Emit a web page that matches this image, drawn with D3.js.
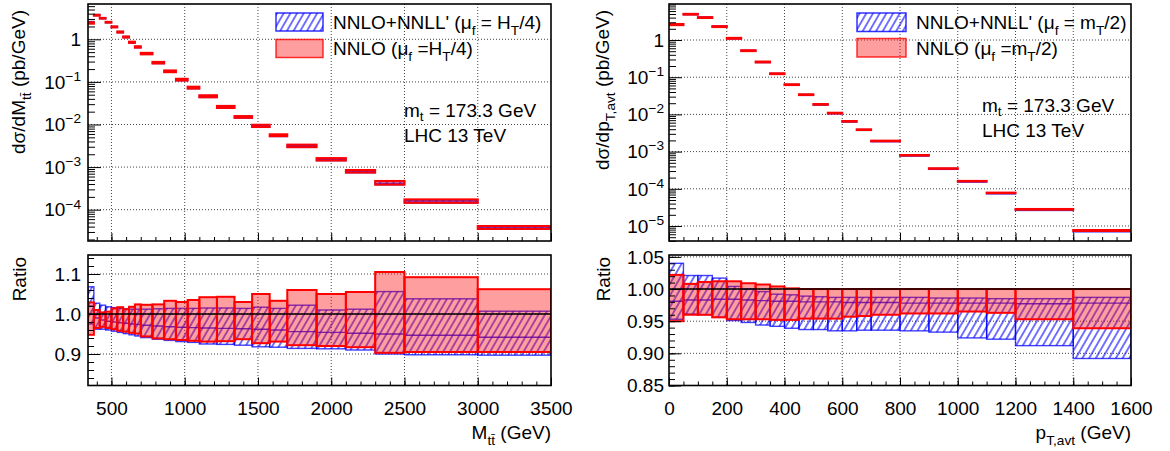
<!DOCTYPE html>
<html><head><meta charset="utf-8">
<script src="https://cdn.jsdelivr.net/npm/d3@7"></script>
<style>body{margin:0;background:#fff}svg{display:block}text{font-family:"Liberation Sans",Arial,Helvetica,sans-serif}</style>
</head><body><svg id="c" width="1170" height="451"></svg>
<script>
// ---------------- data: M_ttbar ----------------
const mttEdges = [340,380,420,460,500,540,580,620,660,700,780,860,940,1020,1100,1220,1340,1460,1580,1700,1900,2100,2300,2500,3000,3500];
const mttXsec  = [2.45,3.72,3.16,2.55,1.98,1.5,1.15,0.865,0.67,0.47,0.288,0.18,0.115,0.0746,0.0467,0.0262,0.0153,0.0094,0.0057,0.00318,0.00155,0.00081,0.000428,0.00016,0.000039];
const mttNnloHi = [1.029,1.010,1.004,1.006,1.014,1.017,1.012,1.018,1.024,1.023,1.024,1.033,1.030,1.035,1.042,1.043,1.030,1.050,1.033,1.060,1.050,1.055,1.105,1.092,1.062];
const mttNnloLo = [0.948,0.965,0.968,0.965,0.962,0.958,0.956,0.953,0.951,0.944,0.939,0.937,0.935,0.933,0.931,0.932,0.937,0.927,0.931,0.922,0.920,0.917,0.903,0.905,0.905];
const mttResHi  = [1.068,1.027,1.022,1.018,1.016,1.014,1.013,1.012,1.012,1.012,1.013,1.014,1.014,1.014,1.015,1.015,1.014,1.017,1.014,1.022,1.010,1.012,1.056,1.038,1.007];
const mttResMid = [1.020,0.990,0.985,0.982,0.980,0.978,0.977,0.975,0.974,0.972,0.970,0.968,0.967,0.966,0.965,0.964,0.963,0.962,0.960,0.956,0.954,0.952,0.950,0.947,0.942];
const mttResLo  = [0.975,0.962,0.962,0.960,0.957,0.954,0.951,0.948,0.945,0.941,0.937,0.934,0.931,0.929,0.925,0.924,0.922,0.918,0.917,0.914,0.913,0.910,0.900,0.898,0.897];
// ---------------- data: pT,avt ----------------
const ptEdges = [0,50,100,150,200,250,300,350,400,450,500,550,600,650,700,800,900,1000,1100,1200,1400,1600];
const ptXsec  = [2.64,5.0,4.07,2.33,1.13,0.527,0.262,0.127,0.0645,0.0347,0.019,0.0111,0.00665,0.00397,0.00197,0.00081,0.000357,0.000163,0.000079,0.0000287,0.0000078];
const ptNnloHi = [1.022,1.008,1.011,1.012,1.012,1.009,1.007,1.004,1.001,1.0,1.0,1.0,1.0,1.0,1.0,1.0,1.0,1.0,1.0,1.0,1.0];
const ptNnloLo = [0.950,0.960,0.960,0.956,0.953,0.953,0.953,0.952,0.952,0.954,0.954,0.954,0.957,0.958,0.960,0.962,0.962,0.965,0.963,0.953,0.939];
const ptResHi  = [1.040,1.021,1.021,1.017,1.004,1.000,0.996,0.992,0.991,0.989,0.988,0.987,0.987,0.987,0.987,0.987,0.986,0.986,0.985,0.985,0.987];
const ptResMid = [0.981,0.983,0.983,0.984,0.984,0.983,0.982,0.981,0.981,0.980,0.980,0.980,0.979,0.979,0.979,0.978,0.978,0.978,0.978,0.977,0.978];
const ptResLo  = [0.953,0.961,0.960,0.956,0.951,0.948,0.944,0.942,0.939,0.937,0.937,0.935,0.935,0.936,0.936,0.935,0.933,0.924,0.922,0.912,0.892];
// ---------------- tick values / labels ----------------
const mttTicks = [500,1000,1500,2000,2500,3000,3500];
const ptTicks = [0,200,400,600,800,1000,1200,1400,1600];
const mttLogTicks = [1e-4,1e-3,1e-2,1e-1,1];
const ptLogTicks = [1e-5,1e-4,1e-3,1e-2,1e-1,1];
const mttRatioTicks = [0.9,1.0,1.1];
const ptRatioTicks = [0.85,0.90,0.95,1.00,1.05];
const legendMtt = [
  [{t:"NNLO+NNLL' (μ"},{t:"f",sub:1},{t:" = H"},{t:"T",sub:1},{t:"/4)"}],
  [{t:"NNLO (μ"},{t:"f",sub:1},{t:" =H"},{t:"T",sub:1},{t:"/4)"}]];
const legendPt = [
  [{t:"NNLO+NNLL' (μ"},{t:"f",sub:1},{t:" = m"},{t:"T",sub:1},{t:"/2)"}],
  [{t:"NNLO (μ"},{t:"f",sub:1},{t:" =m"},{t:"T",sub:1},{t:"/2)"}]];
const infoText = [[{t:"m"},{t:"t",sub:1},{t:" = 173.3 GeV"}],[{t:"LHC 13 TeV"}]];
const yTitleMtt = [{t:"dσ/dM"},{t:"tt\u0304",sub:1},{t:" (pb/GeV)"}];
const yTitlePt = [{t:"dσ/dp"},{t:"T,avt",sub:1},{t:" (pb/GeV)"}];
const xTitleMtt = [{t:"M"},{t:"tt\u0304",sub:1},{t:" (GeV)"}];
const xTitlePt = [{t:"p"},{t:"T,avt",sub:1},{t:" (GeV)"}];

// ---------------- drawing ----------------
const FS = 19;
const svg = d3.select("#c");
svg.append("rect").attr("width",1170).attr("height",451).attr("fill","#fff");
const defs = svg.append("defs");
const pat = defs.append("pattern").attr("id","hatch").attr("patternUnits","userSpaceOnUse")
  .attr("width",5.8).attr("height",10).attr("patternTransform","rotate(30)");
pat.append("line").attr("x1",2.9).attr("x2",2.9).attr("y1",-1).attr("y2",11)
  .attr("stroke","#0000ff").attr("stroke-width",1.1);

function rich(sel, parts, size, subShift) {
  let cur = 0;
  const sh = subShift === undefined ? 0.3*size : subShift;
  parts.forEach(p => {
    const target = p.sub ? sh : (p.sup ? -0.42*size : 0);
    const ts = sel.append("tspan").text(p.t);
    if (target !== cur) ts.attr("dy", target - cur);
    if (p.sub || p.sup) ts.attr("font-size", size*0.72);
    cur = target;
  });
}

function decadeLabel(v) {
  const e = Math.round(Math.log10(v));
  if (e === 0) return [{t:"1"}];
  return [{t:"10"},{t:(e<0?"\u2212":"")+Math.abs(e),sup:1}];
}

let clipN = 0;
function drawPanel(o) {
  const x = d3.scaleLinear().domain(o.xDom).range([o.x0, o.x1]);
  const yT = d3.scaleLog().domain(o.topDom).range([o.tY1, o.tY0]);
  const yR = d3.scaleLinear().domain(o.ratDom).range([o.rY1, o.rY0]);
  const n = o.xsec.length, idx = d3.range(n);

  const dotted = s => s.attr("stroke","#444").attr("stroke-width",1).attr("stroke-dasharray","1,2");
  // grids
  const gridX = o.xTicks.filter(v => v > o.xDom[0] && v < o.xDom[1]);
  [[o.tY0,o.tY1],[o.rY0,o.rY1]].forEach(([a,b]) => {
    svg.append("g").selectAll("line").data(gridX).join("line")
      .attr("x1",d=>x(d)).attr("x2",d=>x(d)).attr("y1",a).attr("y2",b).call(dotted);
  });
  svg.append("g").selectAll("line").data(o.logTicks.filter(v=>yT(v)>o.tY0+1 && yT(v)<o.tY1-1)).join("line")
    .attr("x1",o.x0).attr("x2",o.x1).attr("y1",d=>yT(d)).attr("y2",d=>yT(d)).call(dotted);
  svg.append("g").selectAll("line").data(o.ratTicks.filter(v=>yR(v)>o.rY0+1 && yR(v)<o.rY1-1)).join("line")
    .attr("x1",o.x0).attr("x2",o.x1).attr("y1",d=>yR(d)).attr("y2",d=>yR(d)).call(dotted);

  function bands(yf, y0, y1) {
    const id = "clip" + (clipN++);
    defs.append("clipPath").attr("id",id).append("rect").attr("x",o.x0).attr("y",y0).attr("width",o.x1-o.x0).attr("height",y1-y0);
    const g = svg.append("g").attr("clip-path",`url(#${id})`);
    const xl = i => x(o.edges[i]), w = i => x(o.edges[i+1]) - x(o.edges[i]);
    g.selectAll(null).data(idx).join("rect")
      .attr("x",xl).attr("width",w)
      .attr("y",i=>yf(i,o.resHi[i])).attr("height",i=>yf(i,o.resLo[i])-yf(i,o.resHi[i]))
      .attr("fill","url(#hatch)").attr("stroke","#0000ff").attr("stroke-width",1.4).attr("stroke-opacity",0.75);
    g.selectAll(null).data(idx).join("line")
      .attr("x1",xl).attr("x2",i=>xl(i)+w(i)).attr("y1",i=>yf(i,o.resMid[i])).attr("y2",i=>yf(i,o.resMid[i]))
      .attr("stroke","#0000ff").attr("stroke-width",1.4).attr("stroke-opacity",0.8);
    g.selectAll(null).data(idx).join("rect")
      .attr("x",xl).attr("width",w)
      .attr("y",i=>yf(i,o.nnloHi[i])).attr("height",i=>yf(i,o.nnloLo[i])-yf(i,o.nnloHi[i]))
      .attr("fill","rgba(255,0,0,0.38)").attr("stroke","#ff0000").attr("stroke-width",2);
  }
  bands((i,r)=>yT(o.xsec[i]*r), o.tY0, o.tY1);
  bands((i,r)=>yR(r), o.rY0, o.rY1);
  // ratio reference line
  svg.append("line").attr("x1",o.x0).attr("x2",o.x1).attr("y1",yR(1)).attr("y2",yR(1))
    .attr("stroke","#000").attr("stroke-width",1.5);

  // ticks
  const xMinor = d3.range(Math.ceil(o.xDom[0]/o.xMinorStep)*o.xMinorStep, o.xDom[1]+1, o.xMinorStep);
  function xAxis(yPos, labels) {
    const gm = svg.append("g").attr("transform",`translate(0,${yPos})`)
      .call(d3.axisBottom(x).tickValues(xMinor).tickSize(-4).tickFormat(""));
    gm.select(".domain").remove();
    const g = svg.append("g").attr("transform",`translate(0,${yPos})`)
      .call(d3.axisBottom(x).tickValues(o.xTicks).tickSize(-8).tickPadding(16).tickFormat(labels ? d3.format("d") : ""));
    g.select(".domain").remove();
    g.selectAll("text").attr("font-size",FS).attr("font-family",'"Liberation Sans",Arial,sans-serif').attr("fill","#000");
  }
  xAxis(o.tY1, false);
  xAxis(o.rY1, true);

  const logMinor = [];
  for (let e = -7; e <= 1; e++) for (let m = 2; m <= 9; m++) {
    const v = m*Math.pow(10,e);
    if (v > o.topDom[0] && v < o.topDom[1]) logMinor.push(v);
  }
  const g1 = svg.append("g").attr("transform",`translate(${o.x0},0)`)
    .call(d3.axisLeft(yT).tickValues(logMinor).tickSize(-7).tickFormat(""));
  g1.select(".domain").remove();
  const g2 = svg.append("g").attr("transform",`translate(${o.x0},0)`)
    .call(d3.axisLeft(yT).tickValues(o.logTicks).tickSize(-13).tickFormat(""));
  g2.select(".domain").remove();
  const rMinor = d3.range(Math.ceil(o.ratDom[0]/o.ratMinorStep-1e-6), Math.floor(o.ratDom[1]/o.ratMinorStep+1e-6)+1).map(k=>k*o.ratMinorStep);
  const g3 = svg.append("g").attr("transform",`translate(${o.x0},0)`)
    .call(d3.axisLeft(yR).tickValues(rMinor).tickSize(-6).tickFormat(""));
  g3.select(".domain").remove();
  const g4 = svg.append("g").attr("transform",`translate(${o.x0},0)`)
    .call(d3.axisLeft(yR).tickValues(o.ratTicks).tickSize(-12).tickFormat(""));
  g4.select(".domain").remove();

  // y labels
  o.logTicks.forEach(v => {
    const t = svg.append("text").attr("x",o.labX).attr("y",yT(v)+6.8).attr("text-anchor","end").attr("font-size",FS);
    rich(t, decadeLabel(v), FS);
  });
  o.ratTicks.forEach(v => {
    svg.append("text").attr("x",o.labX).attr("y",yR(v)+6.8).attr("text-anchor","end").attr("font-size",FS)
      .text(d3.format(o.ratFmt)(v));
  });

  // frames
  svg.append("rect").attr("x",o.x0).attr("y",o.tY0).attr("width",o.x1-o.x0).attr("height",o.tY1-o.tY0)
    .attr("fill","none").attr("stroke","#000").attr("stroke-width",1.6);
  svg.append("rect").attr("x",o.x0).attr("y",o.rY0).attr("width",o.x1-o.x0).attr("height",o.rY1-o.rY0)
    .attr("fill","none").attr("stroke","#000").attr("stroke-width",1.6);

  // titles
  const yt = svg.append("text").attr("transform",`translate(${o.yTitleX},10) rotate(-90)`)
    .attr("text-anchor","end").attr("font-size",FS);
  rich(yt, o.yTitle, FS);
  svg.append("text").attr("transform",`translate(${o.yTitleX+1},${o.rY0+2}) rotate(-90)`)
    .attr("text-anchor","end").attr("font-size",FS).text("Ratio");
  const xt = svg.append("text").attr("x",o.x1).attr("y",439).attr("text-anchor","end").attr("font-size",FS);
  rich(xt, o.xTitle, FS);

  // legend
  const L = o.leg;
  svg.append("rect").attr("x",L.x).attr("y",L.y1).attr("width",L.w).attr("height",L.h)
    .attr("fill","url(#hatch)").attr("stroke","#0000ff").attr("stroke-width",1.5).attr("stroke-opacity",0.8);
  svg.append("rect").attr("x",L.x).attr("y",L.y2).attr("width",L.w).attr("height",L.h)
    .attr("fill","rgba(255,0,0,0.38)").attr("stroke","#ff0000").attr("stroke-width",1.5).attr("stroke-opacity",0.8);
  o.legText.forEach((parts,k) => {
    const t = svg.append("text").attr("x",L.tx).attr("y",k?L.b2:L.b1).attr("font-size",FS);
    rich(t, parts, FS);
  });
  // info
  infoText.forEach((parts,k) => {
    const t = svg.append("text").attr("x",o.info.x).attr("y",o.info.y[k]).attr("font-size",FS);
    rich(t, parts, FS, 4);
  });
}

drawPanel({
  x0:88, x1:551, tY0:4, tY1:241, rY0:255, rY1:385.5,
  xDom:[340,3500], topDom:[1.84e-5,6.74], ratDom:[0.82125,1.1475],
  edges:mttEdges, xsec:mttXsec, nnloHi:mttNnloHi, nnloLo:mttNnloLo, resHi:mttResHi, resMid:mttResMid, resLo:mttResLo,
  xTicks:mttTicks, xMinorStep:100, logTicks:mttLogTicks, ratTicks:mttRatioTicks, ratMinorStep:0.02, ratFmt:".1f",
  labX:81, yTitleX:25, yTitle:yTitleMtt, xTitle:xTitleMtt,
  leg:{x:276, y1:13, y2:39.5, w:47, h:18, tx:333, b1:29, b2:55}, legText:legendMtt,
  info:{x:404, y:[117,142]}
});
drawPanel({
  x0:669, x1:1131, tY0:4, tY1:241, rY0:255, rY1:385.5,
  xDom:[0,1600], topDom:[3.95e-6,9.29], ratDom:[0.85,1.0529],
  edges:ptEdges, xsec:ptXsec, nnloHi:ptNnloHi, nnloLo:ptNnloLo, resHi:ptResHi, resMid:ptResMid, resLo:ptResLo,
  xTicks:ptTicks, xMinorStep:50, logTicks:ptLogTicks, ratTicks:ptRatioTicks, ratMinorStep:0.01, ratFmt:".2f",
  labX:664, yTitleX:609, yTitle:yTitlePt, xTitle:xTitlePt,
  leg:{x:857, y1:13, y2:38.5, w:49, h:18.5, tx:916, b1:29, b2:55}, legText:legendPt,
  info:{x:982, y:[112,137]}
});
</script></body></html>
